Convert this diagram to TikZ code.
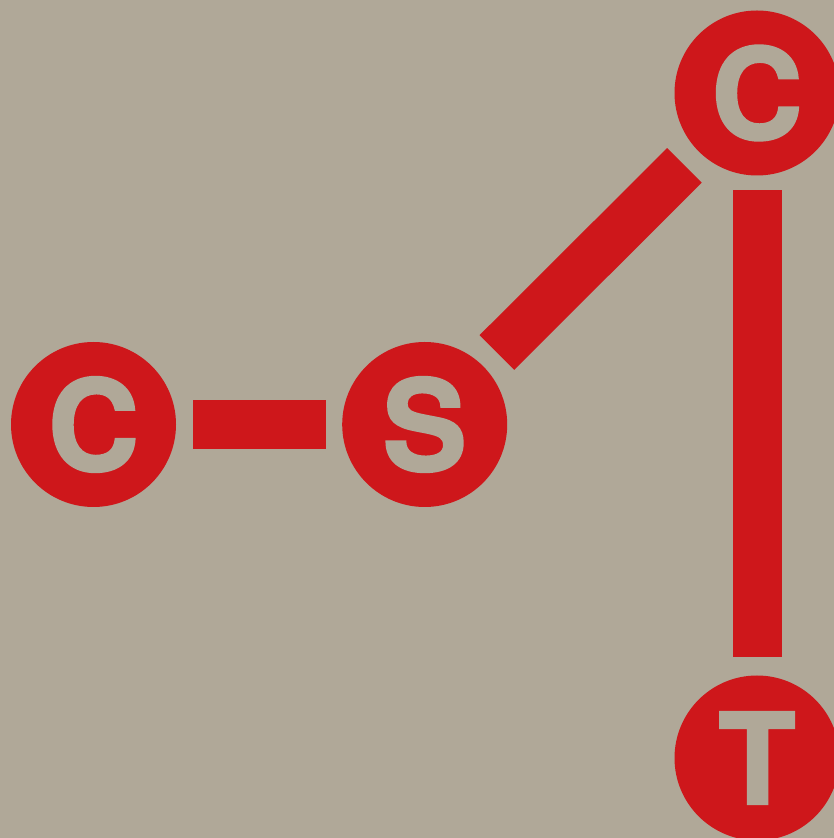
\documentclass[tikz,border=0pt]{standalone}
\usepackage{fontspec}
\newfontfamily\letterfont{texgyreheros-bold.otf}[FakeBold=2]
\definecolor{bgc}{RGB}{176,168,152}
\definecolor{redc}{RGB}{206,23,27}
\begin{document}
\begin{tikzpicture}[x=1pt,y=1pt,
  ball/.style={circle,fill=redc,minimum size=165pt,inner sep=0pt,outer sep=0pt,
    text=bgc,font=\letterfont\fontsize{126}{126}\selectfont},
  bar/.style={draw=redc,line width=49pt,line cap=butt}]
\useasboundingbox (0,0) rectangle (834,838);
\clip (0,0) rectangle (834,838);
\fill[bgc] (0,0) rectangle (834,838);
\node[ball] (c1) at (93.5,413.5) {C};
\node[ball] (s) at (424.7,413.5) {S};
\node[ball] (c2) at (757,745) {C};
\node[ball] (t) at (757,80) {T};
\draw[bar,shorten <=17pt,shorten >=16pt] (c1) -- (s);
\draw[bar,shorten <=19.5pt,shorten >=20pt] (s) -- (c2);
\draw[bar,shorten <=15pt,shorten >=18pt] (c2.south) -- (t.north);
\end{tikzpicture}
\end{document}
